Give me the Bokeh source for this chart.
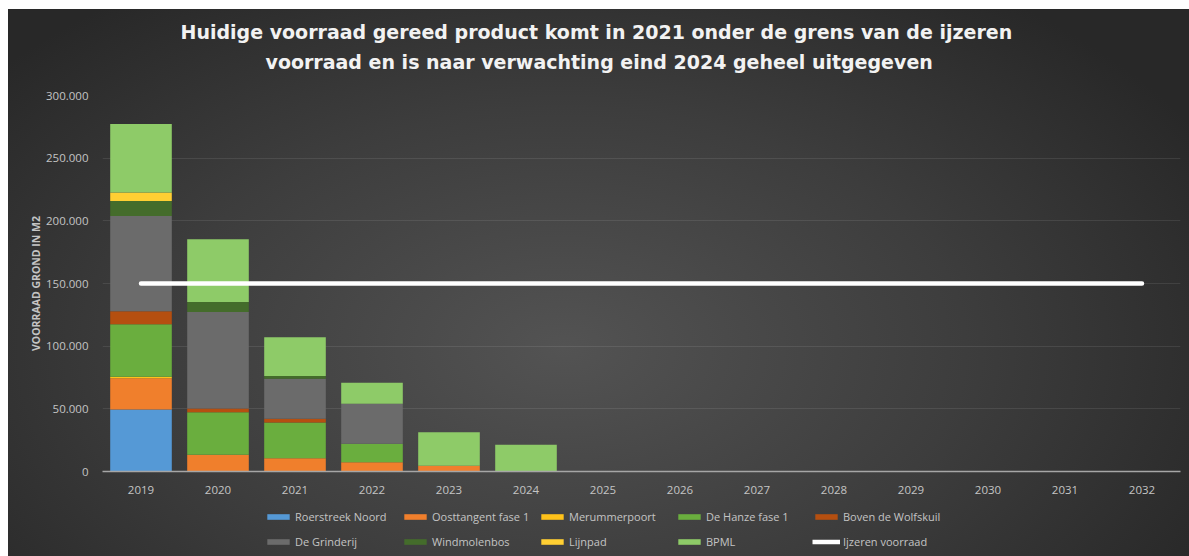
from bokeh.plotting import figure
from bokeh.layouts import column
from bokeh.models import (ColumnDataSource, Legend, LegendItem, FixedTicker, Range1d, Title,
                          FactorRange)
from bokeh.embed import file_html
from bokeh.resources import INLINE

# ---------------- data ----------------
years = ["2019", "2020", "2021", "2022", "2023", "2024", "2025",
         "2026", "2027", "2028", "2029", "2030", "2031", "2032"]

roerstreek_noord   = [49500, 0, 0, 0, 0, 0, 0, 0, 0, 0, 0, 0, 0, 0]
oosttangent_fase_1 = [25000, 13300, 10600, 7400, 4500, 0, 0, 0, 0, 0, 0, 0, 0, 0]
merummerpoort      = [1000, 0, 0, 0, 0, 0, 0, 0, 0, 0, 0, 0, 0, 0]
de_hanze_fase_1    = [42000, 34000, 28500, 14700, 0, 0, 0, 0, 0, 0, 0, 0, 0, 0]
boven_de_wolfskuil = [10400, 3000, 3000, 0, 0, 0, 0, 0, 0, 0, 0, 0, 0, 0]
de_grinderij       = [76000, 77000, 32000, 32000, 0, 0, 0, 0, 0, 0, 0, 0, 0, 0]
windmolenbos       = [12000, 8000, 2000, 0, 0, 0, 0, 0, 0, 0, 0, 0, 0, 0]
lijnpad            = [6700, 0, 0, 0, 0, 0, 0, 0, 0, 0, 0, 0, 0, 0]
bpml               = [54600, 50000, 31000, 16800, 26900, 21300, 0, 0, 0, 0, 0, 0, 0, 0]
ijzeren_voorraad   = [150000, 150000, 150000, 150000, 150000, 150000, 150000,
                      150000, 150000, 150000, 150000, 150000, 150000, 150000]

series_keys = ["roerstreek_noord", "oosttangent_fase_1", "merummerpoort", "de_hanze_fase_1",
               "boven_de_wolfskuil", "de_grinderij", "windmolenbos", "lijnpad", "bpml"]
series_labels = ["Roerstreek Noord", "Oosttangent fase 1", "Merummerpoort", "De Hanze fase 1",
                 "Boven de Wolfskuil", "De Grinderij", "Windmolenbos", "Lijnpad", "BPML"]
line_label = "Ijzeren voorraad"

y_ticks = [0, 50000, 100000, 150000, 200000, 250000, 300000]
y_tick_labels = ["0", "50.000", "100.000", "150.000", "200.000", "250.000", "300.000"]

title_line1 = "Huidige voorraad gereed product komt in 2021 onder de grens van de ijzeren"
title_line2 = "voorraad en is naar verwachting eind 2024 geheel uitgegeven"
y_axis_title = "VOORRAAD GROND IN M2"

# ---------------- styles ----------------
colors = ["#5599d6", "#f07f2c", "#ffc21a", "#6aae3e", "#b54f10",
          "#6b6b6b", "#446c2b", "#ffcf33", "#8ecb68"]
FONT = "Open Sans"
TFONT = "DejaVu Sans"
TXT = "#c4c4c4"

source = ColumnDataSource(dict(
    years=years,
    roerstreek_noord=roerstreek_noord,
    oosttangent_fase_1=oosttangent_fase_1,
    merummerpoort=merummerpoort,
    de_hanze_fase_1=de_hanze_fase_1,
    boven_de_wolfskuil=boven_de_wolfskuil,
    de_grinderij=de_grinderij,
    windmolenbos=windmolenbos,
    lijnpad=lijnpad,
    bpml=bpml,
    ijzeren_voorraad=ijzeren_voorraad,
))

W = 1181
p = figure(x_range=years, width=W, height=497, output_backend="svg",
           toolbar_location=None, min_border_left=94, min_border_right=9,
           min_border_top=86, min_border_bottom=35)
p.y_range = Range1d(0, 300000)
p.x_range.range_padding = 0
p.background_fill_alpha = 0
p.border_fill_alpha = 0
p.outline_line_color = None

bars = p.vbar_stack(series_keys, x="years", width=0.8, source=source,
                    color=colors, line_color=None)
line = p.line(x="years", y="ijzeren_voorraad", source=source,
              line_color="white", line_width=4.5, line_cap="round")

# titles: p.title is outermost, added title sits closer to the plot
p.title.text = title_line1
p.title.align = "left"
p.title.offset = 78
p.title.text_color = "#f2f2f2"
p.title.text_font = TFONT
p.title.text_font_size = "19px"
p.title.text_font_style = "bold"
p.title.standoff = -34
t2 = Title(text=title_line2, align="left", offset=163, text_color="#f2f2f2",
           text_font=TFONT, text_font_size="19px", text_font_style="bold", standoff=46)
p.add_layout(t2, "above")

# axes
p.xaxis.axis_line_color = "#a6a6a6"
p.xaxis.axis_line_width = 1.5
p.xaxis.major_tick_line_color = None
p.xaxis.minor_tick_line_color = None
p.xaxis.major_label_text_color = TXT
p.xaxis.major_label_text_font = FONT
p.xaxis.major_label_text_font_size = "11.5px"
p.xaxis.major_label_standoff = 8

p.yaxis.ticker = FixedTicker(ticks=y_ticks)
p.yaxis.major_label_overrides = {v: s for v, s in zip(y_ticks, y_tick_labels)}
p.yaxis.axis_line_color = None
p.yaxis.major_tick_line_color = None
p.yaxis.minor_tick_line_color = None
p.yaxis.major_label_text_color = TXT
p.yaxis.major_label_text_font = FONT
p.yaxis.major_label_text_font_size = "11.5px"
p.yaxis.major_label_standoff = 8
p.yaxis.axis_label = y_axis_title
p.yaxis.axis_label_text_color = TXT
p.yaxis.axis_label_text_font = FONT
p.yaxis.axis_label_text_font_size = "10.5px"
p.yaxis.axis_label_text_font_style = "bold"
p.yaxis.axis_label_standoff = 0

p.xgrid.grid_line_color = None
p.ygrid.grid_line_color = "white"
p.ygrid.grid_line_alpha = 0.09

# legend strip (separate figure below the chart; its range holds none of the years,
# so its glyphs only serve as legend swatches)
lf = figure(x_range=FactorRange(factors=["legend"]), width=W, height=50,
            output_backend="svg", toolbar_location=None,
            x_axis_type=None, y_axis_type=None, min_border=0)
lf.y_range = Range1d(0, 300000)
lf.background_fill_alpha = 0
lf.border_fill_alpha = 0
lf.outline_line_color = None
lf.grid.grid_line_color = None

leg_bars = lf.vbar_stack(series_keys, x="years", width=0.8, source=source,
                         color=colors, line_color=None)
leg_line = lf.line(x="years", y="ijzeren_voorraad", source=source,
                   line_color="white", line_width=4.5)

items = [LegendItem(label=lab, renderers=[r]) for lab, r in zip(series_labels, leg_bars)]
items.append(LegendItem(label=line_label, renderers=[leg_line]))
legend = Legend(items=items, orientation="horizontal", ncols=5,
                location=(162, 5), padding=0, margin=0, spacing=5,
                glyph_width=28, glyph_height=7, label_width=101, label_height=20,
                label_standoff=3, label_text_color=TXT, label_text_font=FONT,
                label_text_font_size="11px", background_fill_alpha=0,
                border_line_alpha=0)
lf.add_layout(legend, "center")

layout = column(p, lf, spacing=0)
layout.margin = (9, 0, 0, 8)
layout.styles = {"background": "radial-gradient(ellipse 62% 80% at 47% 62%, #535353 0%, #3d3d3d 55%, #282828 100%)"}

open("out.html", "w").write(file_html(layout, INLINE))
